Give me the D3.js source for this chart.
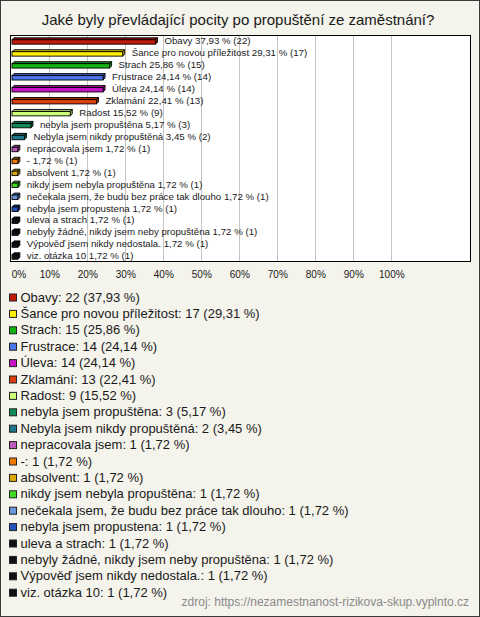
<!DOCTYPE html>
<html>
<head>
<meta charset="utf-8">
<script src="https://cdn.jsdelivr.net/npm/d3@7"></script>
<style>
  html, body { margin: 0; padding: 0; background: #f4f3ec; }
  svg { display: block; font-family: Arial, "Liberation Sans", sans-serif; }
</style>
</head>
<body>
<svg id="chart" width="480" height="617"></svg>
<script>
const title = "Jaké byly převládající pocity po propuštění ze zaměstnání?";
const categories = [
  "Obavy", "Šance pro novou příležitost", "Strach", "Frustrace", "Úleva", "Zklamání", "Radost",
  "nebyla jsem propuštěna", "Nebyla jsem nikdy propuštěná", "nepracovala jsem", "-", "absolvent",
  "nikdy jsem nebyla propuštěna", "nečekala jsem, že budu bez práce tak dlouho",
  "nebyla jsem propustena", "uleva a strach", "nebyly žádné, nikdy jsem neby propuštěna",
  "Výpověď jsem nikdy nedostala.", "viz. otázka 10"
];
const counts = [22, 17, 15, 14, 14, 13, 9, 3, 2, 1, 1, 1, 1, 1, 1, 1, 1, 1, 1];
const percents = [37.93, 29.31, 25.86, 24.14, 24.14, 22.41, 15.52, 5.17, 3.45, 1.72, 1.72, 1.72, 1.72, 1.72, 1.72, 1.72, 1.72, 1.72, 1.72];
const colors = ["#c41a0c", "#ffee00", "#11b511", "#4a78ec", "#c812c8", "#dc3f0e", "#ccff77",
  "#128a55", "#1f7688", "#bb5cbb", "#ee7a00", "#dcaa00", "#3fdd22", "#6a98dc", "#2454bc",
  "#111111", "#111111", "#111111", "#111111"];
const tickValues = [0, 10, 20, 30, 40, 50, 60, 70, 80, 90, 100];
const source = "zdroj: https://nezamestnanost-rizikova-skup.vyplnto.cz";

const fmt = v => v.toFixed(2).replace(".", ",");
const svg = d3.select("#chart");
const W = 480, H = 617;

// background & outer border
svg.append("rect").attr("x", 0.5).attr("y", 0.5).attr("width", W - 1).attr("height", H - 1)
  .attr("fill", "#f4f3ec").attr("stroke", "#3a3a3a");

// title
svg.append("text").attr("x", 238).attr("y", 25).attr("text-anchor", "middle")
  .attr("font-size", 15).attr("fill", "#1a1a1a").text(title);

// plot box
const box = {x: 10.5, y: 35.5, w: 460, h: 226};
svg.append("rect").attr("x", box.x).attr("y", box.y).attr("width", box.w).attr("height", box.h)
  .attr("fill", "#ffffff");

const x = d3.scaleLinear().domain([0, 100]).range([11.3, 391.3]);
const y = d3.scaleBand().domain(categories).range([35, 262]).padding(0);

// gridlines
svg.append("g").selectAll("line").data(tickValues.filter(t => t > 0)).join("line")
  .attr("x1", d => Math.round(x(d)) + 0.5).attr("x2", d => Math.round(x(d)) + 0.5)
  .attr("y1", box.y).attr("y2", box.y + box.h)
  .attr("stroke", "#c4c4c4").attr("stroke-width", 1);

// bars (3D)
const dx = 2, dy = 2;
const bars = svg.append("g").selectAll("g").data(categories).join("g");
bars.each(function(c, i) {
  const g = d3.select(this);
  const x0 = x(0) + 0.7, x1 = x(percents[i]);
  const cy = y(c) + y.bandwidth() / 2;
  const yTop = cy - 1.2, yBot = cy + 3.2;
  const col = d3.color(colors[i]);
  const dark = col.darker(0.7).formatHex();
  g.append("path")
    .attr("d", `M${x0},${yTop}L${x0 + dx},${yTop - dy}L${x1 + dx},${yTop - dy}L${x1},${yTop}Z`)
    .attr("fill", dark).attr("stroke", "#000").attr("stroke-width", 0.9);
  g.append("path")
    .attr("d", `M${x1},${yTop}L${x1 + dx},${yTop - dy}L${x1 + dx},${yBot - dy}L${x1},${yBot}Z`)
    .attr("fill", dark).attr("stroke", "#000").attr("stroke-width", 0.9);
  g.append("rect").attr("x", x0).attr("y", yTop).attr("width", Math.max(0, x1 - x0)).attr("height", yBot - yTop)
    .attr("fill", colors[i]).attr("stroke", "#000").attr("stroke-width", 0.9);
  g.append("text").attr("x", x1 + 9).attr("y", cy + 3.3)
    .attr("font-size", 9.7).attr("fill", "#1a1a1a")
    .text(`${c} ${fmt(percents[i])} % (${counts[i]})`);
});

// plot box border
svg.append("rect").attr("x", box.x).attr("y", box.y).attr("width", box.w).attr("height", box.h)
  .attr("fill", "none").attr("stroke", "#000").attr("stroke-width", 1);

// axis tick labels
const axis = d3.axisBottom(x).tickValues(tickValues).tickFormat(d => d + "%").tickSize(0).tickPadding(0);
const ag = svg.append("g").attr("transform", "translate(0,270)").call(axis);
ag.select(".domain").remove();
ag.selectAll("text").attr("font-size", 10).attr("fill", "#1a1a1a")
  .attr("font-family", "Arial, 'Liberation Sans', sans-serif")
  .attr("dy", "0.78em")
  .attr("text-anchor", d => d === 0 ? "start" : "middle");

// legend
const leg = svg.append("g").selectAll("g").data(categories).join("g")
  .attr("transform", (d, i) => `translate(0,${301.5 + i * 16.4})`);
leg.append("rect").attr("x", 9.5).attr("y", -7.5).attr("width", 7).attr("height", 7)
  .attr("fill", (d, i) => colors[i]).attr("stroke", "#222").attr("stroke-width", 1);
leg.append("text").attr("x", 20.5).attr("y", 0).attr("font-size", 13).attr("fill", "#1a1a1a")
  .text((d, i) => `${d}: ${counts[i]} (${fmt(percents[i])} %)`);

// source
svg.append("text").attr("x", 469).attr("y", 606).attr("text-anchor", "end")
  .attr("font-size", 12).attr("fill", "#8a8a8a").text(source);
</script>
</body>
</html>
